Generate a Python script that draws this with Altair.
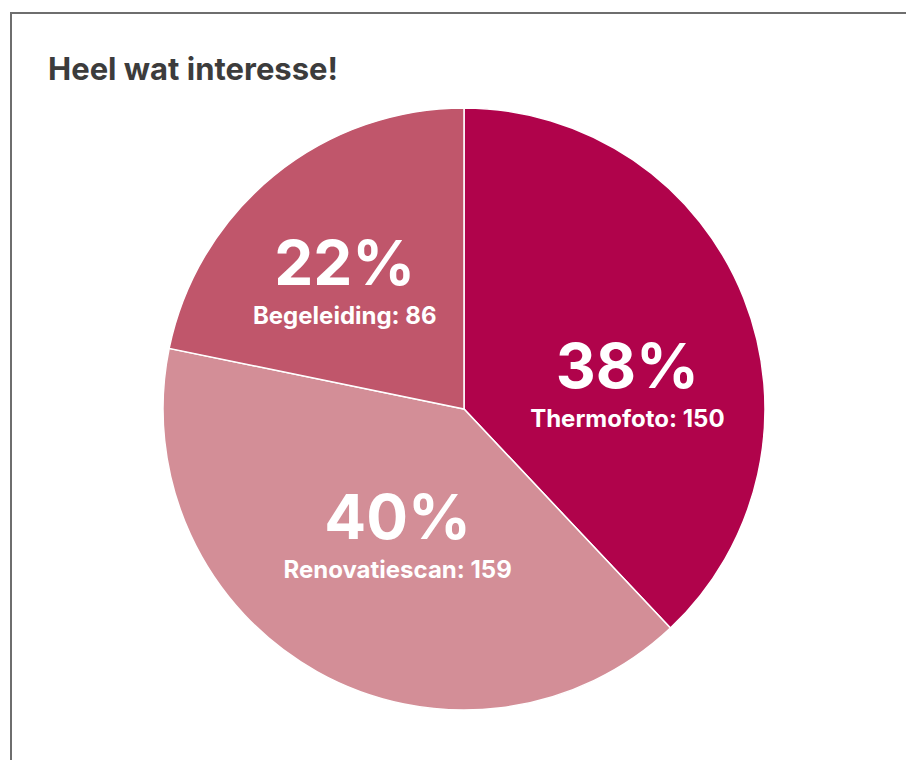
import altair as alt
import pandas as pd

# ---- data ----
categories = ["Thermofoto", "Renovatiescan", "Begeleiding"]
counts = [150, 159, 86]
slice_order = [0, 1, 2]
colors = ["#B0034B", "#D38E97", "#C0566B"]
title_text = ["Heel wat interesse!"]

# ---- layout / style ----
FONT = "Inter"
W, H = 898, 752
CX, CY = 456, 401
R = 301
LR = 165
offsets = {"Thermofoto": (10, 40), "Renovatiescan": (14, -14), "Begeleiding": (-15, 4)}

df = pd.DataFrame({"category": categories, "count": counts, "order": slice_order})
color_scale = alt.Scale(domain=categories, range=colors)

pie = alt.Chart(df).mark_arc(outerRadius=R, stroke="white", strokeWidth=1.5).encode(
    theta=alt.Theta("count:Q", stack=True),
    color=alt.Color("category:N", scale=color_scale, legend=None),
    order=alt.Order("order:Q"),
    x=alt.value(CX),
    y=alt.value(CY),
)

label_base = alt.Chart(df).transform_joinaggregate(
    total="sum(count)"
).transform_window(
    cum="sum(count)", sort=[alt.SortField("order")], frame=[None, 0]
).transform_calculate(
    mid="datum.cum - datum.count / 2",
    pct="format(datum.count / datum.total, '.0%')",
    name="datum.category + ': ' + datum.count",
)

layers = [pie]
for cat, (dx, dy) in offsets.items():
    b = label_base.transform_filter(alt.datum.category == cat)
    big = b.mark_text(
        radius=LR, dx=dx, dy=dy, fontSize=62, fontWeight="bold", font=FONT,
        color="white", align="center", baseline="alphabetic",
    ).encode(theta=alt.Theta("mid:Q"), text="pct:N", x=alt.value(CX), y=alt.value(CY))
    small = b.mark_text(
        radius=LR, dx=dx, dy=dy + 39, fontSize=24, fontWeight="bold", font=FONT,
        color="white", align="center", baseline="alphabetic",
    ).encode(theta=alt.Theta("mid:Q"), text="name:N", x=alt.value(CX), y=alt.value(CY))
    layers += [big, small]

title = alt.Chart(pd.DataFrame({"t": title_text})).mark_text(
    fontSize=31, fontWeight="bold", font=FONT, color="#3c3c3c",
    align="left", baseline="alphabetic",
).encode(text="t:N", x=alt.value(40), y=alt.value(72))

border = alt.Chart(pd.DataFrame({"t": title_text})).mark_rect(
    fillOpacity=0, stroke="#6e6e6e", strokeWidth=2,
).encode(x=alt.value(3), y=alt.value(5), x2=alt.value(W + 40), y2=alt.value(H + 40))

chart = alt.layer(border, title, *layers).properties(
    width=W, height=H, padding=0, autosize=alt.AutoSizeParams(type="none"),
    background="white",
).configure_view(stroke=None)

chart.save("out.html", embed_options={"renderer": "svg", "actions": False})
